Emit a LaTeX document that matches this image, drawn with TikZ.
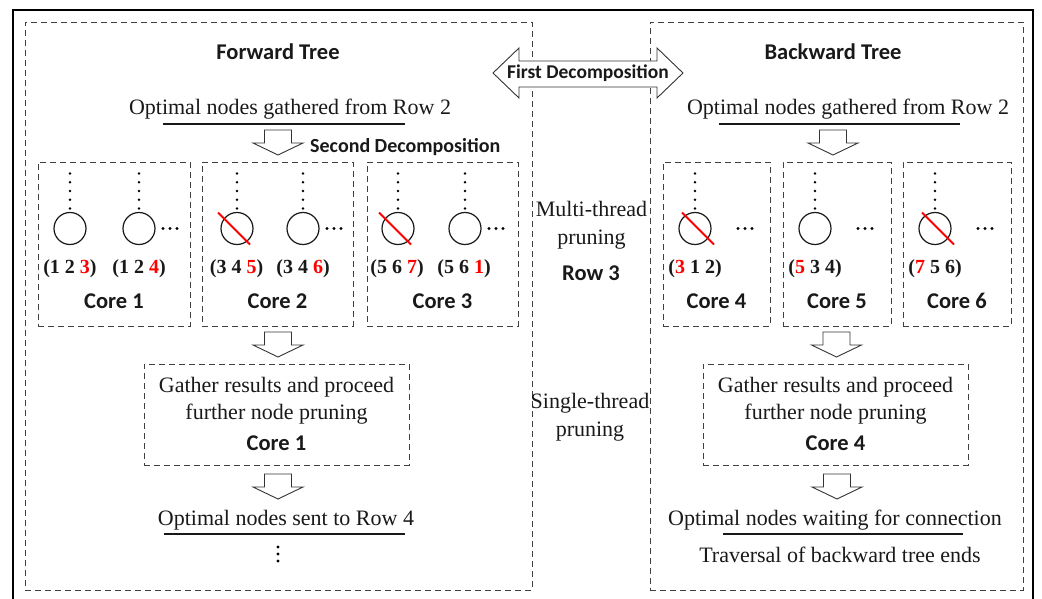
\documentclass[tikz,border=0pt]{standalone}
\usepackage{fontspec}
\setmainfont{Liberation Serif}
\newfontfamily\calib{Carlito}
\usetikzlibrary{calc}
\newcommand\blkdown[1]{\draw[blk] ($(#1)+(-13.5,-25)$) -- ($(#1)+(13.5,-25)$) -- ($(#1)+(13.5,-12)$) -- ($(#1)+(25,-12)$) -- (#1) -- ($(#1)+(-25,-12)$) -- ($(#1)+(-13.5,-12)$) -- cycle;}
\newcommand\vdotsabove[1]{\foreach \d in {-55,-46.25,-37.5,-28.75,-20} {\fill ($(#1.center)+(0,\d)$) circle (1.3pt);}}
\begin{document}
\begin{tikzpicture}[x=1pt,y=-1pt,
  dbox/.style={draw=black!75, dash pattern=on 6pt off 4pt, line width=0.9pt, inner sep=0pt},
  serif/.style={font=\fontsize{22}{28}\selectfont, inner sep=0pt, anchor=base, text=black!90},
  bsans/.style={font=\calib\bfseries\fontsize{22.5}{26}\selectfont, inner sep=0pt, anchor=base, text=black!90},
  lab/.style={font=\bfseries\fontsize{20}{24}\selectfont, inner sep=0pt, anchor=base, text=black!90},
  tnode/.style={circle, draw=black!90, line width=1.2pt, minimum size=32pt, inner sep=0pt},
  slash/.style={draw=red, line width=1.8pt},
  blk/.style={draw=black!80, fill=white, line width=0.9pt, line join=miter},
  uline/.style={draw=black!90, line width=1.2pt}
]
\useasboundingbox (0,0) rectangle (1042,599);
% outer frame
\draw[line width=2pt] (13,603) -- (13,10) -- (1033,10) -- (1033,603);
% tree boxes
\node[dbox, minimum width=507pt, minimum height=568pt] (fwd) at (278.5,306) {};
\node[dbox, minimum width=373pt, minimum height=568pt] (bwd) at (836.5,306) {};
% first decomposition arrow
\draw[blk] (493,73) -- (519,48) -- (519,61) -- (657,61) -- (657,48) -- (683,73) -- (657,98) -- (657,87) -- (519,87) -- (519,98) -- cycle;
\node[bsans, font=\calib\bfseries\fontsize{19.5}{22}\selectfont] (fd) at (588,79) {First Decomposition};
% titles
\node[bsans] (ft) at (278,60) {Forward Tree};
\node[bsans] (bt) at (833,60) {Backward Tree};
\node[serif] (og1) at (290,115) {Optimal nodes gathered from Row 2};
\node[serif] (og2) at (848,115) {Optimal nodes gathered from Row 2};
\draw[uline] (163,124) -- (405,124);
\draw[uline] (719,124) -- (960,124);
\coordinate (t1) at (278,155);
\coordinate (t2) at (833,155);
\blkdown{t1}
\blkdown{t2}
\node[bsans, font=\calib\bfseries\fontsize{20}{24}\selectfont, anchor=base west] (sd) at (310,153) {Second Decomposition};
% core boxes
\node[dbox, minimum width=152pt, minimum height=164pt] (k1) at (114,244) {};
\node[dbox, minimum width=151pt, minimum height=164pt] (k2) at (277.5,244) {};
\node[dbox, minimum width=151pt, minimum height=164pt] (k3) at (442.5,244) {};
\node[dbox, minimum width=107pt, minimum height=164pt] (k4) at (716.5,244) {};
\node[dbox, minimum width=108pt, minimum height=164pt] (k5) at (837,244) {};
\node[dbox, minimum width=108pt, minimum height=164pt] (k6) at (957,244) {};
% circles
\foreach \n/\x in {c1a/70, c1b/139, c2a/237, c2b/303, c3a/398, c3b/465, c4/695, c5/815, c6/935}{
  \node[tnode] (\n) at (\x,228.5) {};
  \vdotsabove{\n}
}
% horizontal ellipses
\foreach \n in {c1b,c2b,c3b}{
  \foreach \o in {24,31,38}{\fill ($(\n.center)+(\o,0)$) circle (1.7pt);}
}
\foreach \n in {c4,c5,c6}{
  \foreach \o in {43,50,57}{\fill ($(\n.center)+(\o,0)$) circle (1.7pt);}
}
% slashes
\foreach \n in {c2a,c3a}{\draw[slash] ($(\n.center)+(-19,-16)$) -- ($(\n.center)+(13,16)$);}
\foreach \n in {c4,c6}{\draw[slash] ($(\n.center)+(-13,-16)$) -- ($(\n.center)+(19,16)$);}
% labels
\node[lab] (l1a) at (70,273) {(1 2 \textcolor{red}{3})};
\node[lab] (l1b) at (139,273) {(1 2 \textcolor{red}{4})};
\node[lab] (l2a) at (236.5,273) {(3 4 \textcolor{red}{5})};
\node[lab] (l2b) at (303,273) {(3 4 \textcolor{red}{6})};
\node[lab] (l3a) at (397,273) {(5 6 \textcolor{red}{7})};
\node[lab] (l3b) at (464,273) {(5 6 \textcolor{red}{1})};
\node[lab] (l4) at (695,273) {(\textcolor{red}{3} 1 2)};
\node[lab] (l5) at (815,273) {(\textcolor{red}{5} 3 4)};
\node[lab] (l6) at (935,273) {(\textcolor{red}{7} 5 6)};
\node[bsans] (n1) at (114,308) {Core 1};
\node[bsans] (n2) at (277.5,308) {Core 2};
\node[bsans] (n3) at (442.5,308) {Core 3};
\node[bsans] (n4) at (716.5,308) {Core 4};
\node[bsans] (n5) at (837,308) {Core 5};
\node[bsans] (n6) at (957,308) {Core 6};
% middle column
\node[serif, align=center] (mt) at (591.5,244) {Multi-thread\\pruning};
\node[bsans] (r3) at (591,280) {Row 3};
\node[serif, align=center] (st) at (590,436) {Single-thread\\pruning};
% second arrows
\coordinate (t3) at (278,357);
\coordinate (t4) at (836.5,357);
\blkdown{t3}
\blkdown{t4}
% gather boxes
\node[dbox, minimum width=265pt, minimum height=101pt] (g1) at (276.5,414.5) {};
\node[dbox, minimum width=265pt, minimum height=101pt] (g2) at (835.5,414.5) {};
\node[serif] (g1a) at (276.5,392) {Gather results and proceed};
\node[serif] (g1b) at (276.5,419) {further node pruning};
\node[bsans] (g1c) at (276.5,450) {Core 1};
\node[serif] (g2a) at (835.5,392) {Gather results and proceed};
\node[serif] (g2b) at (835.5,419) {further node pruning};
\node[bsans] (g2c) at (835.5,450) {Core 4};
% third arrows
\coordinate (t5) at (278,499);
\coordinate (t6) at (837,499);
\blkdown{t5}
\blkdown{t6}
\node[serif] (os) at (286,525) {Optimal nodes sent to Row 4};
\draw[uline] (164,534) -- (405,534);
\foreach \y in {547,554,561}{\fill (278,\y) circle (1.7pt);}
\node[serif] (ow) at (835,525) {Optimal nodes waiting for connection};
\draw[uline] (723,534) -- (963,534);
\node[serif] (tv) at (840,562) {Traversal of backward tree ends};
\end{tikzpicture}
\end{document}
